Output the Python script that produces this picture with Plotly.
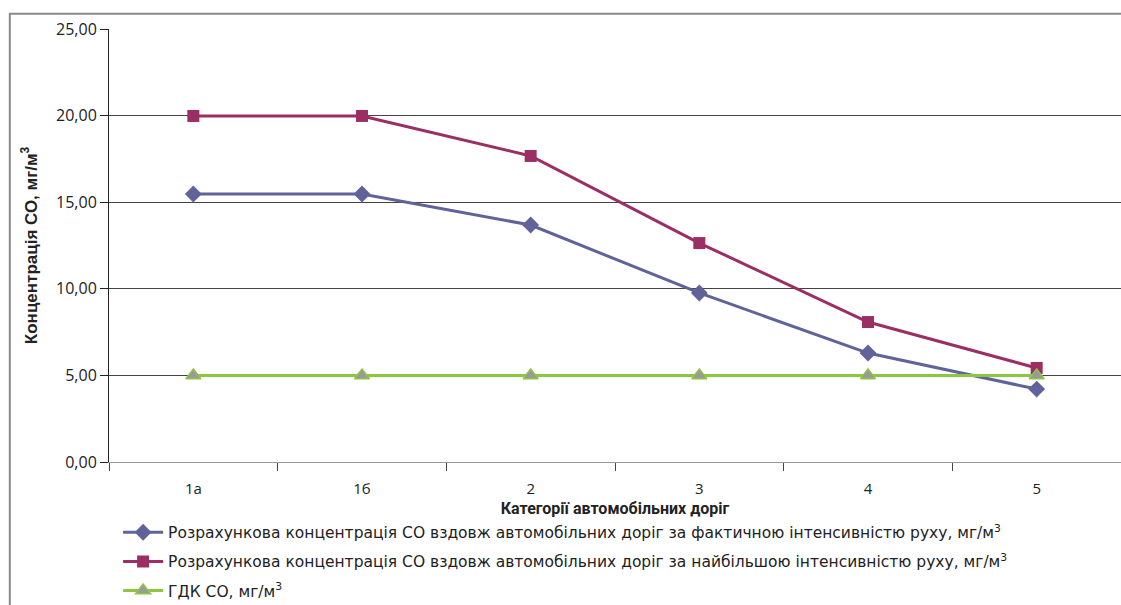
import plotly.graph_objects as go

categories = ["1а", "1б", "2", "3", "4", "5"]
actual_intensity = [15.47, 15.47, 13.68, 9.76, 6.29, 4.21]
max_intensity = [19.98, 19.98, 17.67, 12.64, 8.08, 5.43]
mpc_co = [5.0, 5.0, 5.0, 5.0, 5.0, 5.0]
y_ticks = [0, 5, 10, 15, 20, 25]

names = [
    "Розрахункова концентрація СО вздовж автомобільних доріг за фактичною інтенсивністю руху, мг/м<sup>3</sup>",
    "Розрахункова концентрація СО вздовж автомобільних доріг за найбільшою інтенсивністю руху, мг/м<sup>3</sup>",
    "ГДК СО, мг/м<sup>3</sup>",
]

legend_font = "DejaVu Sans, sans-serif"
tick_font = "Open Sans, sans-serif"

fig = go.Figure()
fig.add_trace(go.Scatter(
    x=categories, y=actual_intensity, mode="lines+markers", name=names[0],
    legendgroup="a",
    line=dict(color="#5F6399", width=3),
    marker=dict(symbol="diamond", size=13, color="#5F6399"),
))
fig.add_trace(go.Scatter(
    x=categories, y=max_intensity, mode="lines+markers", name=names[1],
    legendgroup="b",
    line=dict(color="#9B2F63", width=3),
    marker=dict(symbol="square", size=12, color="#9B2F63"),
))
fig.add_trace(go.Scatter(
    x=categories, y=mpc_co, mode="lines+markers", name=names[2],
    legendgroup="c",
    line=dict(color="#8DC63F", width=3),
    marker=dict(symbol="triangle-up", size=13, color="#9A9A9A",
                line=dict(color="#8DC63F", width=1.5)),
))

# Outer frame around the chart
fig.add_shape(type="rect", xref="paper", yref="paper",
              x0=-0.098, y0=-0.5, x1=1.05, y1=1.035,
              line=dict(color="#8A8A8A", width=2), layer="below")

fig.update_layout(
    width=1121, height=605,
    margin=dict(l=109, r=0, t=29, b=143, autoexpand=False),
    paper_bgcolor="white", plot_bgcolor="white",
    separators=", ",
    font=dict(family=tick_font, size=15, color="#222"),
    showlegend=True,
    legend=dict(x=0.009, y=-0.124, xanchor="left", yanchor="top",
                orientation="v", tracegroupgap=6, itemwidth=40,
                font=dict(family=legend_font, size=15.5, color="#222"),
                bgcolor="rgba(0,0,0,0)"),
    xaxis=dict(
        type="category", tickson="boundaries", ticks="outside", ticklen=8,
        tickcolor="#444", showline=True, linecolor="#999", linewidth=1,
        showgrid=False, range=[-0.5, 5.5], ticklabelstandoff=13,
        automargin=False,
        tickfont=dict(family=tick_font, size=15, color="#222"),
        title=dict(text="<b>Категорії автомобільних доріг</b>",
                   font=dict(family="Roboto, sans-serif", size=16, color="#222"), standoff=5),
    ),
    yaxis=dict(
        range=[0, 25], tickvals=y_ticks, tickformat=".2f",
        ticks="outside", ticklen=8, tickcolor="#222",
        showline=True, linecolor="#222", linewidth=1,
        showgrid=True, gridcolor="#444", gridwidth=1, zeroline=False,
        automargin=False,
        tickfont=dict(family=tick_font, size=16, color="#222"),
        title=dict(text="<b>Концентрація СО, мг/м<sup>3</sup></b>",
                   font=dict(family="Liberation Sans, Arial, sans-serif", size=17, color="#222"),
                   standoff=14),
    ),
)

fig.write_html("out.html")
